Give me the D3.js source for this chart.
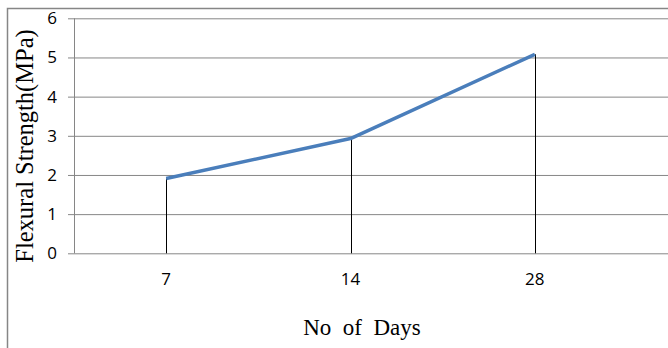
<!DOCTYPE html>
<html>
<head>
<meta charset="utf-8">
<script src="https://cdn.jsdelivr.net/npm/d3@7/dist/d3.min.js"></script>
<style>
  html, body { margin: 0; padding: 0; background: #fff; }
  svg { display: block; }
</style>
</head>
<body>
<svg id="chart" width="668" height="348"></svg>
<script>
// Flexural strength by curing age
const days = ["7", "14", "28"];
const strength = [1.91, 2.93, 5.08];
const yTicks = [0, 1, 2, 3, 4, 5, 6];

const svg = d3.select("#chart");
const W = 668, H = 348;
const plot = { left: 74, right: 627, top: 18.3, bottom: 253.3 };

// outer chart frame (extends past the visible edge on the right and bottom)
svg.append("rect")
  .attr("x", 7.5).attr("y", 8.5)
  .attr("width", W + 20).attr("height", H + 20)
  .attr("fill", "none")
  .attr("stroke", "#868686")
  .attr("stroke-width", 1.5);

const x = d3.scaleBand().domain(days).range([plot.left, plot.right]);
const y = d3.scaleLinear().domain([0, 6]).range([plot.bottom, plot.top]);

// horizontal gridlines with the tick stubs on the left
const yAxis = d3.axisLeft(y).tickValues(yTicks).tickSize(-(W + 10 - plot.left)).tickPadding(17).tickFormat(d3.format("d"));
const gy = svg.append("g").attr("transform", `translate(${plot.left},0)`).call(yAxis);
gy.select(".domain").remove();
gy.selectAll(".tick line").attr("stroke", "#868686").attr("x1", -6);
gy.selectAll(".tick text")
  .attr("font-family", "'Open Sans', 'Liberation Sans', sans-serif")
  .attr("font-size", 17)
  .attr("fill", "#000");

// vertical axis line
svg.append("line")
  .attr("x1", plot.left + 0.5).attr("x2", plot.left + 0.5)
  .attr("y1", plot.top).attr("y2", plot.bottom)
  .attr("stroke", "#868686");

// category labels
const xAxis = d3.axisBottom(x).tickSize(0).tickPadding(20);
const gx = svg.append("g").attr("transform", `translate(0,${plot.bottom})`).call(xAxis);
gx.select(".domain").remove();
gx.selectAll(".tick text")
  .attr("font-family", "'Open Sans', 'Liberation Sans', sans-serif")
  .attr("font-size", 17)
  .attr("fill", "#000");

const cx = d => x(d) + x.bandwidth() / 2;

// drop lines from each point to the baseline
svg.append("g").selectAll("line")
  .data(days)
  .join("line")
  .attr("x1", d => Math.round(cx(d)) + 0.5)
  .attr("x2", d => Math.round(cx(d)) + 0.5)
  .attr("y1", (d, i) => y(strength[i]))
  .attr("y2", y(0))
  .attr("stroke", "#000")
  .attr("stroke-width", 1);

// strength line
const line = d3.line().x((d, i) => cx(days[i])).y(d => y(d));
svg.append("path")
  .datum(strength)
  .attr("d", line)
  .attr("fill", "none")
  .attr("stroke", "#4A7EBB")
  .attr("stroke-width", 3.5)
  .attr("stroke-linejoin", "round");

// axis titles
svg.append("text")
  .attr("transform", `translate(33,146) rotate(-90)`)
  .attr("text-anchor", "middle")
  .attr("font-family", "'Liberation Serif', 'Times New Roman', serif")
  .attr("font-size", 24.5)
  .attr("fill", "#000")
  .text("Flexural Strength(MPa)");

svg.append("text")
  .attr("x", 362).attr("y", 335)
  .attr("text-anchor", "middle")
  .attr("font-family", "'Liberation Serif', 'Times New Roman', serif")
  .attr("font-size", 23)
  .attr("fill", "#000")
  .attr("xml:space", "preserve")
  .style("white-space", "pre")
  .text("No  of  Days");
</script>
</body>
</html>
